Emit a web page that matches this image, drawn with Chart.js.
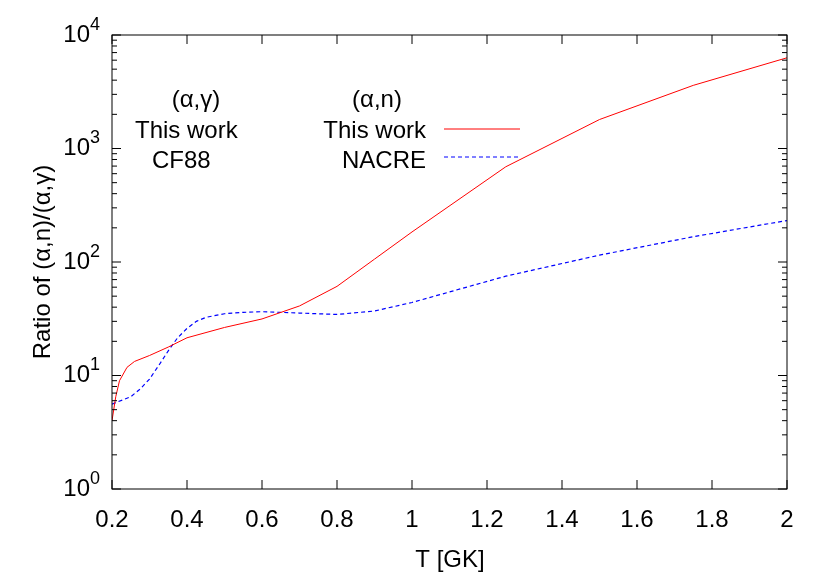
<!DOCTYPE html><html><head><script src="https://cdn.jsdelivr.net/npm/chart.js"></script>
<style>body{margin:0;background:#fff}#w{width:830px;height:581px}</style></head><body><div id="w"><canvas id="c"></canvas></div>
<script>
const tempsRed=[0.2,0.21,0.22,0.24,0.26,0.3,0.35,0.4,0.5,0.6,0.7,0.8,0.9,1.0,1.25,1.5,1.75,2.0];
const thisWork=[4.0,6.5,9,11.8,13.3,15,17.8,21.5,26.5,31.5,41,61,106,184,690,1800,3600,6300];
const tempsBlue=[0.2,0.25,0.275,0.3,0.325,0.35,0.375,0.4,0.425,0.45,0.5,0.55,0.6,0.7,0.8,0.9,1.0,1.25,1.5,1.75,2.0];
const nacre=[5.6,6.5,7.6,9.3,12.3,16.5,21.5,26,30,32.5,35,36,36.5,35.5,34.5,37,44,75,115,167,232];
const xTicks=[0.2,0.4,0.6,0.8,1,1.2,1.4,1.6,1.8,2];
const yExps=[0,1,2,3,4];
const F='"Liberation Sans", Arial, sans-serif';
const deco={id:'deco',afterDraw(ch){
 const c=ch.ctx,a=ch.chartArea,xs=ch.scales.x,ys=ch.scales.y;
 c.save();c.strokeStyle='#000';c.lineWidth=1;c.strokeRect(a.left,a.top,a.right-a.left,a.bottom-a.top);
 c.fillStyle='#000';c.font='24px '+F;c.textAlign='center';c.textBaseline='top';
 xTicks.forEach(t=>{const x=xs.getPixelForValue(t);c.beginPath();c.moveTo(x,a.bottom);c.lineTo(x,a.bottom-9);c.moveTo(x,a.top);c.lineTo(x,a.top+9);c.stroke();c.fillText(String(t),x,a.bottom+19);});
 yExps.forEach(e=>{const y=ys.getPixelForValue(Math.pow(10,e));c.beginPath();c.moveTo(a.left,y);c.lineTo(a.left+9,y);c.moveTo(a.right,y);c.lineTo(a.right-9,y);c.stroke();
  c.textAlign='right';c.textBaseline='middle';c.font='18px '+F;c.fillText(String(e),a.left-12,y-10);const w=c.measureText(String(e)).width;c.font='24px '+F;c.fillText('10',a.left-12-w,y);
  if(e<4)for(let m=2;m<10;m++){const yy=ys.getPixelForValue(m*Math.pow(10,e));c.beginPath();c.moveTo(a.left,yy);c.lineTo(a.left+5,yy);c.moveTo(a.right,yy);c.lineTo(a.right-5,yy);c.stroke();}});
 c.font='24px '+F;c.textAlign='center';c.textBaseline='alphabetic';c.fillText('T [GK]',450,567);
 c.save();c.translate(50,262);c.rotate(-Math.PI/2);c.fillText('Ratio of (α,n)/(α,γ)',0,0);c.restore();
 c.textAlign='center';c.fillText('(α,γ)',196,107);c.fillText('(α,n)',377,107);
 c.textAlign='left';c.fillText('This work',135,138);c.fillText('CF88',152,168);
 c.textAlign='right';c.fillText('This work',426,138);c.fillText('NACRE',426,168);
 c.lineWidth=1;c.strokeStyle='#ff0000';c.beginPath();c.moveTo(444,129);c.lineTo(520,129);c.stroke();
 c.strokeStyle='#0000ff';c.setLineDash([4,3]);c.beginPath();c.moveTo(444,157);c.lineTo(520,157);c.stroke();
 c.restore();}};
new Chart(document.getElementById('c'),{type:'line',data:{datasets:[
 {data:tempsRed.map((t,i)=>({x:t,y:thisWork[i]})),borderColor:'#ff0000',borderWidth:1,pointRadius:0,tension:0},
 {data:tempsBlue.map((t,i)=>({x:t,y:nacre[i]})),borderColor:'#0000ff',borderWidth:1.2,borderDash:[4,3],pointRadius:0,tension:0}]},
 options:{responsive:true,maintainAspectRatio:false,animation:false,layout:{padding:{left:112,right:43,top:35,bottom:92}},
 plugins:{legend:{display:false},tooltip:{enabled:false}},
 scales:{x:{type:'linear',min:0.2,max:2,display:false},y:{type:'logarithmic',min:1,max:10000,display:false}}},plugins:[deco]});
</script></body></html>
